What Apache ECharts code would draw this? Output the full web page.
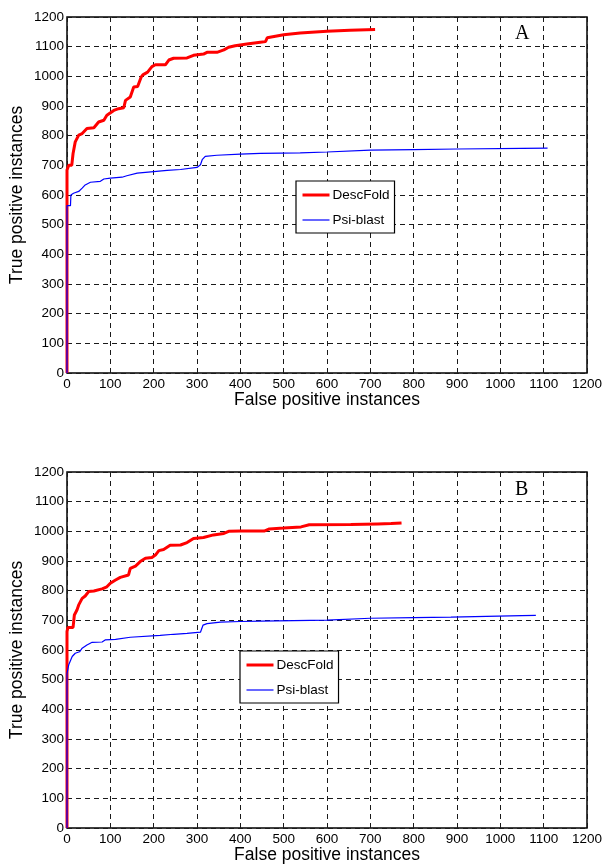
<!DOCTYPE html>
<html>
<head>
<meta charset="utf-8">
<script src="https://cdn.jsdelivr.net/npm/echarts@6/dist/echarts.min.js"></script>
<style>
html,body{margin:0;padding:0;background:#fff;}
#chart{width:604px;height:864px;}
</style>
</head>
<body>
<div id="chart"></div>
<script>
// ---- Data ----
const seriesNames = ['DescFold', 'Psi-blast'];
const axisTicks = [0, 100, 200, 300, 400, 500, 600, 700, 800, 900, 1000, 1100, 1200];
const panelLabels = ['A', 'B'];

// Panel A
const descA_fp = [0, 0, 4, 11, 14, 19, 27, 35, 46, 62, 73, 85, 92, 108, 119, 131, 135, 146, 154, 163, 171, 175, 186, 196, 204, 227, 235, 246, 277, 292, 315, 323, 346, 362, 373, 388, 415, 446, 458, 462, 500, 538, 600, 653, 711];
const descA_tp = [0, 684, 700, 700, 740, 779, 802, 807, 824, 827, 846, 852, 869, 885, 891, 894, 919, 930, 964, 966, 997, 1005, 1014, 1033, 1039, 1039, 1055, 1061, 1062, 1071, 1075, 1081, 1081, 1089, 1098, 1103, 1109, 1115, 1117, 1130, 1140, 1146, 1152, 1155, 1158];
const psiA_fp = [0, 0, 8, 9, 15, 27, 35, 42, 54, 77, 85, 100, 127, 138, 162, 200, 231, 262, 300, 308, 312, 319, 346, 400, 446, 538, 600, 700, 800, 900, 1050, 1109];
const psiA_tp = [0, 564, 564, 600, 606, 612, 623, 634, 643, 646, 654, 657, 660, 665, 674, 679, 683, 686, 693, 702, 719, 730, 734, 738, 740, 742, 745, 751, 753, 755, 757, 758];

// Panel B
const descB_fp = [0, 0, 2, 14, 17, 23, 27, 35, 42, 50, 62, 81, 92, 100, 112, 123, 142, 146, 158, 169, 181, 196, 204, 212, 223, 238, 262, 277, 292, 315, 338, 362, 373, 400, 455, 467, 500, 540, 559, 655, 717, 748, 772];
const descB_tp = [0, 662, 676, 676, 718, 735, 752, 774, 782, 797, 799, 806, 813, 825, 836, 845, 853, 875, 883, 898, 909, 912, 920, 935, 939, 953, 954, 962, 976, 979, 988, 993, 1000, 1001, 1001, 1008, 1011, 1015, 1022, 1023, 1025, 1026, 1028];
const psiB_fp = [0, 0, 4, 12, 19, 29, 35, 46, 58, 81, 88, 112, 146, 150, 215, 246, 277, 308, 314, 323, 354, 400, 446, 600, 700, 800, 886, 1050, 1082];
const psiB_tp = [0, 520, 550, 578, 589, 594, 606, 617, 626, 627, 634, 636, 643, 649, 649, 653, 656, 660, 684, 689, 694, 696, 697, 701, 707, 709, 711, 716, 717];

// ---- Build chart ----
const FONT = "'Liberation Sans', Arial, Helvetica, sans-serif";
function pairs(xs, ys) { return xs.map((x, i) => [x, ys[i]]); }

const grids = [
  { left: 67, top: 17, width: 520, height: 356 },
  { left: 67, top: 472, width: 520, height: 356 }
];

const gridStyle = { show: true, borderColor: '#000', borderWidth: 1.5, backgroundColor: '#fff', containLabel: false, outerBoundsMode: 'none' };

const splitLineStyle = { show: true, lineStyle: { color: '#1a1a1a', width: 1, type: [5, 4] } };

function plain(v) { return String(v); }

function xAxis(gi) {
  return {
    type: 'value', gridIndex: gi, min: axisTicks[0], max: axisTicks[axisTicks.length - 1], interval: axisTicks[1] - axisTicks[0],
    name: 'False positive instances', nameLocation: 'middle', nameGap: 18, nameMoveOverlap: false,
    nameTextStyle: { fontFamily: FONT, fontSize: 17.5, color: '#000' },
    axisLine: { show: false }, axisTick: { show: false },
    axisLabel: { fontFamily: FONT, fontSize: 13.5, color: '#000', margin: 4, showMinLabel: true, showMaxLabel: true, formatter: plain },
    splitLine: splitLineStyle
  };
}
function yAxis(gi) {
  return {
    type: 'value', gridIndex: gi, min: axisTicks[0], max: axisTicks[axisTicks.length - 1], interval: axisTicks[1] - axisTicks[0],
    name: 'True positive instances', nameLocation: 'middle', nameGap: 41, nameMoveOverlap: false,
    nameTextStyle: { fontFamily: FONT, fontSize: 17.5, color: '#000' },
    axisLine: { show: false }, axisTick: { show: false },
    axisLabel: { fontFamily: FONT, fontSize: 13.5, color: '#000', margin: 3, showMinLabel: true, showMaxLabel: true, formatter: plain },
    splitLine: splitLineStyle
  };
}

function lineSeries(name, gi, data, color, width) {
  return {
    name: name, type: 'line', xAxisIndex: gi, yAxisIndex: gi, data: data,
    showSymbol: false, symbol: 'none', animation: false,
    lineStyle: { color: color, width: width }, itemStyle: { color: color }
  };
}

function legend(left, top) {
  return {
    orient: 'vertical', left: left, top: top,
    data: seriesNames,
    backgroundColor: '#fff', borderColor: '#000', borderWidth: 1.2, borderRadius: 0,
    padding: [7, 5, 6, 5], itemGap: 11, itemWidth: 27, itemHeight: 14,
    lineStyle: { width: 'inherit' },
    itemStyle: { color: 'rgba(0,0,0,0)', borderWidth: 0, opacity: 0 },
    textStyle: { fontFamily: FONT, fontSize: 13.5, color: '#000', padding: [0, 0, 0, -2] },
    selectedMode: false
  };
}

const option = {
  backgroundColor: '#fff',
  animation: false,
  grid: grids.map(g => Object.assign({}, gridStyle, g)),
  xAxis: [xAxis(0), xAxis(1)],
  yAxis: [yAxis(0), yAxis(1)],
  legend: [legend(296, 181), legend(240, 651)],
  series: [
    lineSeries(seriesNames[0], 0, pairs(descA_fp, descA_tp), '#ff0000', 3),
    lineSeries(seriesNames[1], 0, pairs(psiA_fp, psiA_tp), '#0000ff', 1.2),
    lineSeries(seriesNames[0], 1, pairs(descB_fp, descB_tp), '#ff0000', 3),
    lineSeries(seriesNames[1], 1, pairs(psiB_fp, psiB_tp), '#0000ff', 1.2)
  ],
  graphic: [
    { type: 'text', left: 515, top: 24, z: 100, style: { text: panelLabels[0], font: "20px 'Liberation Serif', 'Times New Roman', serif", fill: '#000' } },
    { type: 'text', left: 515, top: 480, z: 100, style: { text: panelLabels[1], font: "20px 'Liberation Serif', 'Times New Roman', serif", fill: '#000' } }
  ]
};

const chart = echarts.init(document.getElementById('chart'), null, { renderer: 'canvas' });
chart.setOption(option);
</script>
</body>
</html>
